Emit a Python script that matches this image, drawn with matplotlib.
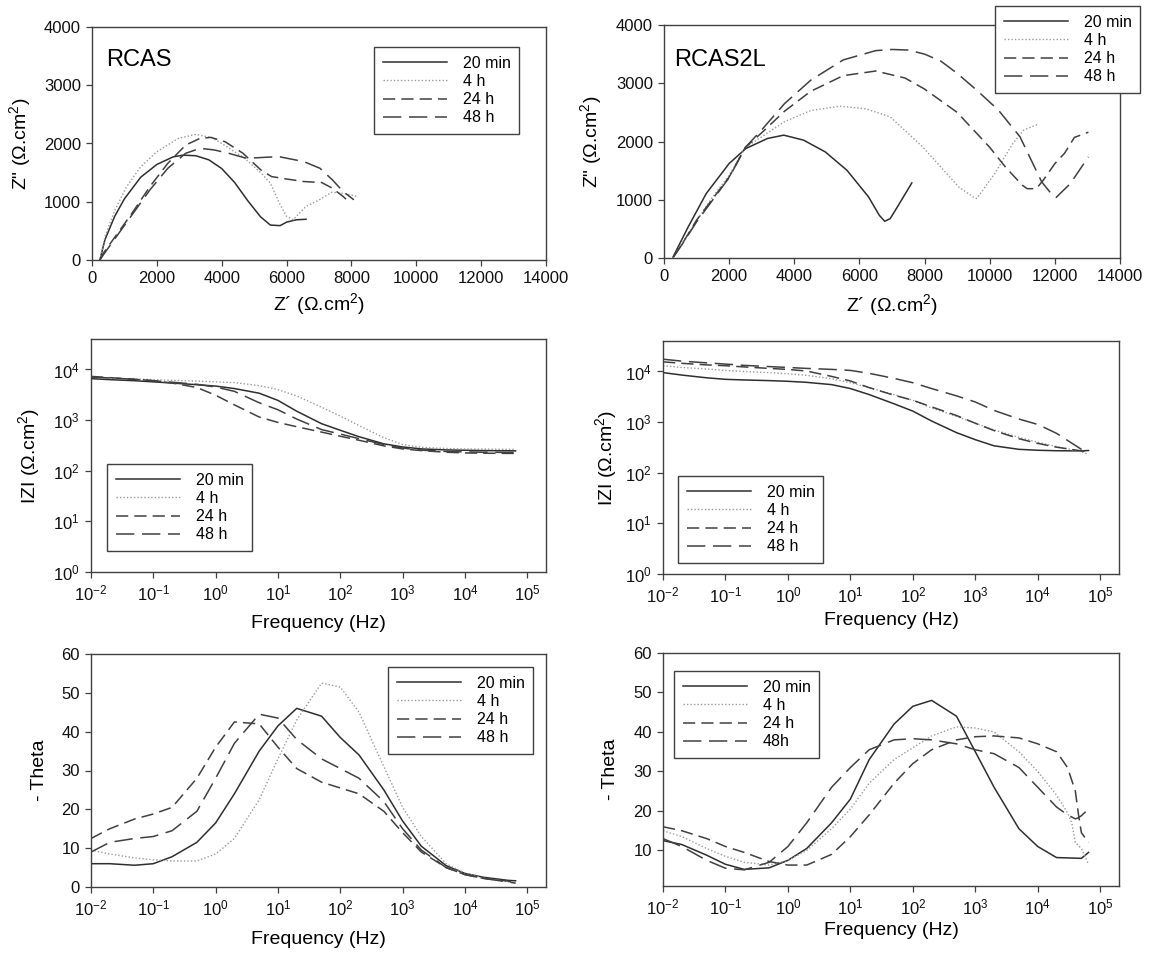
import matplotlib
matplotlib.use("Agg")
import matplotlib.pyplot as plt
from matplotlib.ticker import NullLocator
import numpy as np

plt.rcParams['font.family'] = ['Liberation Sans', 'DejaVu Sans']
plt.rcParams['mathtext.fontset'] = 'custom'
plt.rcParams['mathtext.rm'] = 'Liberation Sans'
plt.rcParams['mathtext.it'] = 'Liberation Sans:italic'
plt.rcParams['mathtext.default'] = 'regular'

labels = ['20 min', '4 h', '24 h', '48 h']
labels_6 = ['20 min', '4 h', '24 h', '48h']

# ---- RCAS Nyquist ----
rcas_x_20m = [243, 400, 700, 1000, 1500, 2000, 2500, 2800, 3200, 3600, 4000, 4400, 4800, 5200, 5500, 5800, 6000, 6300, 6600]
rcas_y_20m = [0, 350, 750, 1050, 1420, 1640, 1770, 1800, 1790, 1720, 1570, 1330, 1020, 740, 600, 590, 650, 690, 700]
rcas_x_4h = [243, 400, 700, 1070, 1500, 2000, 2670, 3200, 3700, 4000, 4700, 5200, 5500, 5800, 6000, 6200, 6600, 7000, 7400, 7800, 8200]
rcas_y_4h = [0, 400, 850, 1260, 1600, 1860, 2090, 2157, 2100, 2000, 1750, 1500, 1320, 950, 750, 690, 920, 1030, 1165, 1140, 1090]
rcas_x_24h = [243, 353, 794, 1236, 1787, 2339, 2890, 3332, 3663, 4104, 4656, 5207, 5538, 5980, 6531, 7083, 7414, 7745, 7910]
rcas_y_24h = [0, 120, 462, 805, 1261, 1660, 1974, 2088, 2105, 2031, 1832, 1546, 1432, 1392, 1347, 1330, 1232, 1090, 1004]
rcas_x_48h = [243, 353, 794, 1236, 1787, 2339, 2890, 3332, 3773, 4214, 4766, 5759, 6531, 7028, 7414, 7745, 8076]
rcas_y_48h = [0, 91, 434, 776, 1204, 1575, 1832, 1917, 1889, 1832, 1746, 1775, 1689, 1575, 1375, 1175, 1033]

# ---- RCAS2L Nyquist ----
r2l_x_20m = [277, 742, 1296, 2000, 2514, 3178, 3677, 4286, 4950, 5615, 6280, 6610, 6777, 6944, 7166, 7608]
r2l_y_20m = [17, 533, 1106, 1622, 1880, 2052, 2109, 2023, 1822, 1507, 1049, 733, 630, 676, 877, 1289]
r2l_x_4h = [290, 600, 1074, 1500, 2000, 2500, 3000, 3700, 4500, 5400, 6200, 6944, 7940, 8494, 9048, 9490, 9600, 10155, 10710, 11042, 11485]
r2l_y_4h = [17, 300, 700, 1050, 1420, 1900, 2080, 2340, 2530, 2607, 2560, 2424, 1908, 1564, 1220, 1049, 1020, 1450, 1966, 2195, 2298]
r2l_x_24h = [290, 600, 1000, 1500, 2000, 2500, 3000, 3700, 4500, 5500, 6500, 7400, 8000, 9000, 10000, 10500, 11000, 11150, 11430, 11650, 12000, 12300, 12600, 13030]
r2l_y_24h = [17, 280, 650, 1020, 1390, 1900, 2150, 2520, 2860, 3130, 3210, 3090, 2900, 2500, 1900, 1550, 1250, 1190, 1190, 1340, 1620, 1800, 2070, 2160]
r2l_x_48h = [290, 600, 1000, 1500, 2000, 2500, 3000, 3700, 4500, 5500, 6500, 7000, 7500, 8000, 8500, 9000, 9600, 10266, 10930, 11374, 11596, 11928, 12040, 12476, 13030]
r2l_y_48h = [17, 270, 620, 1000, 1380, 1900, 2200, 2650, 3050, 3400, 3560, 3580, 3570, 3500, 3380, 3170, 2882, 2539, 2080, 1564, 1307, 1077, 1040, 1278, 1736]

# ---- Bode frequencies ----
freq = [0.01, 0.02, 0.05, 0.1, 0.2, 0.5, 1, 2, 5, 10, 20, 50, 100, 200, 500, 1000, 2000, 5000, 1e4, 2e4, 5e4, 6.5e4]

# RCAS |Z|
rcas_z_20m = [6600, 6300, 6000, 5700, 5400, 5000, 4700, 4200, 3400, 2450, 1500, 850, 630, 470, 340, 295, 270, 258, 254, 250, 248, 247]
rcas_z_4h = [7000, 6700, 6500, 6300, 6100, 5900, 5700, 5500, 4800, 4000, 3000, 1800, 1200, 780, 450, 330, 290, 275, 270, 268, 265, 265]
rcas_z_24h = [7300, 6900, 6400, 6000, 5400, 4400, 3100, 2000, 1150, 900, 740, 580, 480, 400, 310, 270, 250, 232, 225, 222, 220, 220]
rcas_z_48h = [7100, 6800, 6400, 6000, 5600, 5100, 4500, 3700, 2200, 1600, 1050, 650, 530, 430, 330, 280, 255, 240, 235, 232, 230, 230]

# RCAS2L |Z|
r2l_z_20m = [9500, 8500, 7500, 7000, 6800, 6600, 6400, 6100, 5500, 4600, 3500, 2300, 1650, 1050, 620, 450, 340, 290, 278, 272, 270, 275]
r2l_z_4h = [13000, 12000, 11200, 10500, 10000, 9500, 9000, 8400, 7200, 6000, 4800, 3500, 2700, 1900, 1300, 950, 700, 500, 400, 330, 260, 230]
r2l_z_24h = [15500, 14500, 13500, 13000, 12300, 11500, 11000, 10200, 8000, 6500, 4800, 3400, 2700, 2000, 1350, 950, 680, 470, 380, 320, 270, 260]
r2l_z_48h = [17500, 16000, 14800, 14000, 13200, 12500, 12000, 11500, 11000, 10500, 9200, 7300, 6000, 4600, 3300, 2500, 1700, 1150, 900, 600, 290, 270]

# RCAS -theta
rcas_t_20m = [6.0, 6.0, 5.6, 6.0, 7.8, 11.5, 16.5, 24, 35, 41.5, 46, 44, 38.5, 34, 25, 17, 10.5, 5.5, 3.5, 2.5, 1.7, 1.6]
rcas_t_4h = [9.5, 8.5, 7.5, 7.0, 6.7, 6.7, 8.5, 12.5, 22.5, 33, 43, 52.5, 51.5, 45, 31, 20.5, 13, 6, 3.5, 2.3, 1.3, 1.0]
rcas_t_24h = [12.5, 15, 17.5, 18.8, 20.5, 28, 36, 42.5, 42, 36, 30.5, 27, 25.5, 24, 19.5, 14, 9, 5, 3.2, 2.2, 1.5, 1.2]
rcas_t_48h = [9, 11.5, 12.5, 13, 14.5, 19.5, 28, 37, 44.5, 43.5, 38, 33, 30.5, 28, 22, 15, 9.5, 5, 3.2, 2.2, 1.3, 1.0]

# RCAS2L -theta
r2l_t_20m = [12.5, 11.5, 8.8, 6.5, 5.2, 5.6, 7.5, 10.5, 17, 23, 33, 42, 46.5, 48, 44, 35, 26, 15.5, 11, 8.2, 8.0, 9.5]
r2l_f_4h = [0.01, 0.02, 0.05, 0.1, 0.2, 0.5, 1, 2, 5, 10, 20, 50, 100, 200, 500, 1000, 2000, 5000, 1e4, 2e4, 3e4, 3.5e4, 4e4, 5e4, 6.5e4]
r2l_t_4h = [15, 13.5, 10.5, 8.5, 7, 6.3, 7.5, 10, 15.5, 20.5, 27, 33, 36, 39, 41.3, 41, 40, 35, 30, 24, 19.5, 17, 12, 10.5, 6.5]
r2l_f_dash = [0.01, 0.02, 0.05, 0.1, 0.2, 0.5, 1, 2, 5, 10, 20, 50, 100, 200, 500, 1000, 2000, 5000, 1e4, 2e4, 3e4, 4e4, 4.5e4, 5e4, 6.5e4]
r2l_t_24h = [16, 15, 13, 11, 9.5, 7.2, 6.3, 6.3, 9, 13.5, 19, 27, 32, 35.5, 38, 38.8, 39, 38.5, 37, 35, 31, 25, 19, 14.5, 12]
r2l_t_48h = [13, 11, 7.5, 5.5, 5.1, 7, 11, 17, 26, 31, 35.5, 38, 38.3, 38, 37, 35.5, 34.5, 31, 26, 21, 19, 18, 18.3, 18.8, 20.5]

styles = [
    dict(color='#2e2e2e', lw=1.1, ls='-'),
    dict(color='#9a9a9a', lw=1.0, ls=(0, (1, 1.5))),
    dict(color='#404040', lw=1.1, ls=(0, (8, 4))),
    dict(color='#404040', lw=1.1, ls=(0, (12, 5))),
]

W, H = 1162, 956
fig = plt.figure(figsize=(W / 100, H / 100), dpi=100)


def add_ax(l, t, r, b):
    return fig.add_axes([l / W, (H - b) / H, (r - l) / W, (b - t) / H])


def style_ax(ax):
    for s in ax.spines.values():
        s.set_color('#404040')
        s.set_linewidth(1.0)
    ax.tick_params(direction='out', length=4.5, width=0.9, colors='#404040',
                   labelcolor='#111111', labelsize=12, top=False, right=False)


def add_legend(ax, lines, labs, x, y):
    leg = ax.legend(lines, labs, loc='upper left', bbox_to_anchor=(x / W, (H - y) / H),
                    bbox_transform=fig.transFigure, borderaxespad=0, fancybox=False,
                    edgecolor='#404040', framealpha=1, fontsize=11.5,
                    handlelength=4.0, handletextpad=1.0, labelspacing=0.2,
                    borderpad=0.55)
    leg.get_frame().set_linewidth(1.0)


lab_fs = 14
zlab = 'Ω.cm$^{2}$'

# ---------- Panel 1 ----------
ax1 = add_ax(92, 27, 546, 260)
series = [(rcas_x_20m, rcas_y_20m), (rcas_x_4h, rcas_y_4h), (rcas_x_24h, rcas_y_24h), (rcas_x_48h, rcas_y_48h)]
lines = [ax1.plot(x, y, **st)[0] for (x, y), st in zip(series, styles)]
ax1.set_xlim(0, 14000)
ax1.set_ylim(0, 4000)
ax1.set_xticks(np.arange(0, 14001, 2000))
ax1.set_yticks(np.arange(0, 4001, 1000))
style_ax(ax1)
ax1.set_xlabel('Z´ (' + zlab + ')', fontsize=lab_fs)
ax1.set_ylabel('Z" (' + zlab + ')', fontsize=lab_fs)
ax1.xaxis.set_label_coords(0.5, -0.135)
ax1.yaxis.set_label_coords(-0.13, 0.5)
ax1.text(0.032, 0.858, 'RCAS', transform=ax1.transAxes, fontsize=17, va='center')
add_legend(ax1, lines, labels, 374, 47)

# ---------- Panel 2 ----------
ax2 = add_ax(664, 25, 1120, 258)
series = [(r2l_x_20m, r2l_y_20m), (r2l_x_4h, r2l_y_4h), (r2l_x_24h, r2l_y_24h), (r2l_x_48h, r2l_y_48h)]
lines = [ax2.plot(x, y, **st)[0] for (x, y), st in zip(series, styles)]
ax2.set_xlim(0, 14000)
ax2.set_ylim(0, 4000)
ax2.set_xticks(np.arange(0, 14001, 2000))
ax2.set_yticks(np.arange(0, 4001, 1000))
style_ax(ax2)
ax2.set_xlabel('Z´ (' + zlab + ')', fontsize=lab_fs)
ax2.set_ylabel('Z" (' + zlab + ')', fontsize=lab_fs)
ax2.xaxis.set_label_coords(0.5, -0.145)
ax2.yaxis.set_label_coords(-0.132, 0.5)
ax2.text(0.022, 0.85, 'RCAS2L', transform=ax2.transAxes, fontsize=17, va='center')
add_legend(ax2, lines, labels, 995, 6)


def bode_mod(ax, data, leg_xy, xl_y, yl_x):
    lines = [ax.plot(f, z, **st)[0] for (f, z), st in zip(data, styles)]
    ax.set_xscale('log')
    ax.set_yscale('log')
    ax.set_xlim(0.01, 2e5)
    ax.set_ylim(1, 4e4)
    ax.set_xticks([10.0 ** k for k in range(-2, 6)])
    ax.set_yticks([10.0 ** k for k in range(0, 5)])
    ax.xaxis.set_minor_locator(NullLocator())
    ax.yaxis.set_minor_locator(NullLocator())
    style_ax(ax)
    ax.set_xlabel('Frequency (Hz)', fontsize=lab_fs)
    ax.set_ylabel('IZI (' + zlab + ')', fontsize=lab_fs)
    ax.xaxis.set_label_coords(0.5, xl_y)
    ax.yaxis.set_label_coords(yl_x, 0.5)
    add_legend(ax, lines, labels, *leg_xy)


ax3 = add_ax(91, 339, 546, 572)
bode_mod(ax3, [(freq, rcas_z_20m), (freq, rcas_z_4h), (freq, rcas_z_24h), (freq, rcas_z_48h)],
         (107, 464), -0.185, -0.108)

ax4 = add_ax(663, 341, 1119, 574)
bode_mod(ax4, [(freq, r2l_z_20m), (freq, r2l_z_4h), (freq, r2l_z_24h), (freq, r2l_z_48h)],
         (678, 476), -0.165, -0.096)


def bode_phase(ax, data, labs, leg_xy, ylow, yticks, xl_y, yl_x):
    lines = [ax.plot(f, t, **st)[0] for (f, t), st in zip(data, styles)]
    ax.set_xscale('log')
    ax.set_xlim(0.01, 2e5)
    ax.set_ylim(ylow, 60)
    ax.set_xticks([10.0 ** k for k in range(-2, 6)])
    ax.set_yticks(yticks)
    ax.xaxis.set_minor_locator(NullLocator())
    style_ax(ax)
    ax.set_xlabel('Frequency (Hz)', fontsize=lab_fs)
    ax.set_ylabel('- Theta', fontsize=lab_fs)
    ax.xaxis.set_label_coords(0.5, xl_y)
    ax.yaxis.set_label_coords(yl_x, 0.5)
    add_legend(ax, lines, labs, *leg_xy)


ax5 = add_ax(91, 654, 546, 887)
bode_phase(ax5, [(freq, rcas_t_20m), (freq, rcas_t_4h), (freq, rcas_t_24h), (freq, rcas_t_48h)],
           labels, (388, 667), 0, np.arange(0, 61, 10), -0.19, -0.095)

ax6 = add_ax(663, 653, 1119, 886)
bode_phase(ax6, [(freq, r2l_t_20m), (r2l_f_4h, r2l_t_4h), (r2l_f_dash, r2l_t_24h), (r2l_f_dash, r2l_t_48h)],
           labels_6, (674, 671), 1, np.arange(10, 61, 10), -0.153, -0.096)

fig.savefig('out.png', dpi=100, facecolor='white')
